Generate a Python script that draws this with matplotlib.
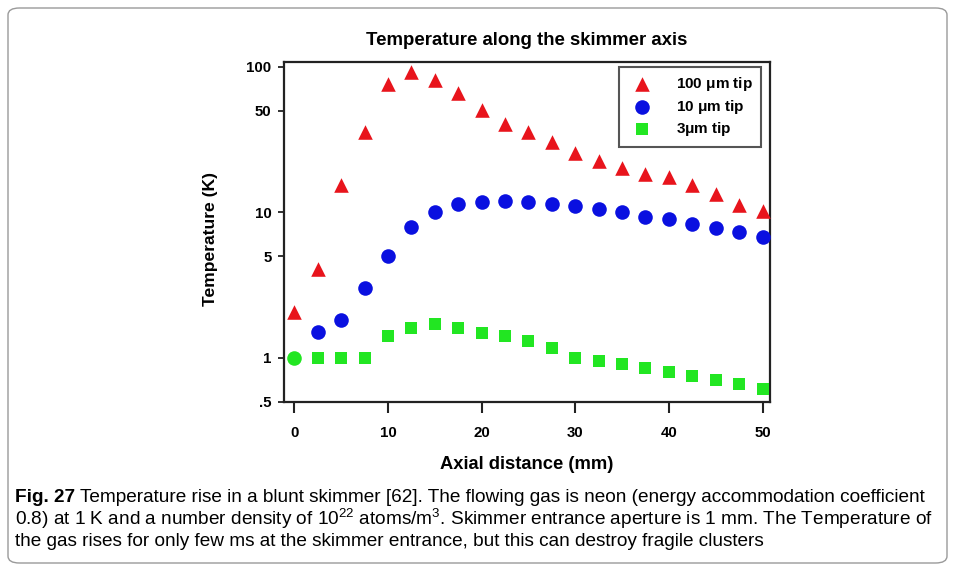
import matplotlib
matplotlib.use("Agg")
import matplotlib.pyplot as plt
from matplotlib.patches import FancyBboxPatch
from matplotlib.ticker import FixedLocator, NullLocator

x = [0, 2.5, 5, 7.5, 10, 12.5, 15, 17.5, 20, 22.5, 25, 27.5, 30, 32.5, 35, 37.5, 40, 42.5, 45, 47.5, 50]
t100 = [2.07, 4.1, 15.4, 35.4, 76.8, 92.4, 81, 66.6, 50.9, 40.8, 35.7, 30.5, 25.6, 22.5, 20.3, 18.3, 17.4, 15.4, 13.3, 11.2, 10.2]
t10 = [1.0, 1.51, 1.82, 3.03, 5.02, 7.95, 10.0, 11.5, 11.8, 11.9, 11.8, 11.5, 11.0, 10.5, 10.1, 9.3, 9.0, 8.3, 7.75, 7.3, 6.8]
t3 = [1.0, 1.0, 1.0, 1.0, 1.42, 1.61, 1.70, 1.61, 1.49, 1.42, 1.30, 1.16, 1.0, 0.95, 0.90, 0.85, 0.80, 0.75, 0.70, 0.66, 0.61]
labels = ["100 $\\mu$m tip", "10 $\\mu$m tip", "3$\\mu$m tip"]
yticks = [0.5, 1, 5, 10, 50, 100]
yticklabels = [".5", "1", "5", "10", "50", "100"]
xticks = [0, 10, 20, 30, 40, 50]

RED, BLUE, GREEN = '#e8141c', '#0a10e0', '#22e622'

plt.rcParams['font.family'] = ['Liberation Sans', 'DejaVu Sans']
plt.rcParams['mathtext.fontset'] = 'custom'
plt.rcParams['mathtext.rm'] = 'Liberation Sans'
plt.rcParams['mathtext.it'] = 'Liberation Sans:bold'
plt.rcParams['mathtext.bf'] = 'Liberation Sans:bold'

fig = plt.figure(figsize=(9.55, 5.71), dpi=100)
fig.patch.set_facecolor('white')

border = FancyBboxPatch((8/955, 8/571), 939/955, 555/571,
                        boxstyle="round,pad=0,rounding_size=0.012",
                        transform=fig.transFigure, fill=False,
                        edgecolor='#9a9a9a', linewidth=1.0)
fig.patches.append(border)

ax = fig.add_axes([284/955, 1 - 402/571, 486/955, 340/571])
ax.set_yscale('log')
ax.scatter(x, t100, marker='^', s=110, color=RED, label=labels[0], zorder=3, linewidths=0)
ax.scatter(x[1:], t10[1:], marker='o', s=110, color=BLUE, label=labels[1], zorder=3, linewidths=0)
ax.scatter(x[1:], t3[1:], marker='s', s=85, color=GREEN, label=labels[2], zorder=4, linewidths=0)
# first point: blue circle covered by green (appears as a green circle)
ax.scatter(x[:1], t3[:1], marker='o', s=110, color=GREEN, zorder=4, linewidths=0)

ax.set_xlim(-1.1, 50.8)
ax.set_ylim(0.497, 108)
ax.yaxis.set_major_locator(FixedLocator(yticks))
ax.yaxis.set_minor_locator(NullLocator())
ax.set_yticklabels(yticklabels)
ax.set_xticks(xticks)
ax.set_xticklabels([str(v) for v in xticks])
for lab in ax.get_xticklabels() + ax.get_yticklabels():
    lab.set_fontweight('bold')
    lab.set_fontsize(10.8)
ax.tick_params(axis='x', direction='out', length=8, width=1.5, color='#222222', pad=9)
ax.tick_params(axis='y', direction='out', length=4, width=1.3, color='#222222', pad=5)
for sp in ax.spines.values():
    sp.set_linewidth(1.6)
    sp.set_color('#222222')

ax.set_title("Temperature along the skimmer axis", fontsize=13.4, fontweight='bold', pad=12)
ax.set_xlabel("Axial distance (mm)", fontsize=13.2, fontweight='bold', labelpad=12)
ax.set_ylabel("Temperature (K)", fontsize=12.6, fontweight='bold')
ax.yaxis.set_label_coords(-0.135, 0.48)

leg = ax.legend(loc='upper right', bbox_to_anchor=(0.985, 0.99), frameon=True, fancybox=False,
                framealpha=1, edgecolor='#555555', prop={'weight': 'bold', 'size': 11},
                handletextpad=1.2, borderpad=0.55, labelspacing=0.3, borderaxespad=0.1,
                handlelength=2.0)
leg.get_frame().set_linewidth(1.5)

cap_font = ['Liberation Sans Narrow', 'Liberation Sans', 'DejaVu Sans']
fs = 13.7
t1 = fig.text(15/955, 1 - 497/571, "Fig. 27", fontsize=fs, fontweight='bold', family=cap_font, va='center', ha='left')
fig.canvas.draw()
bb = t1.get_window_extent()
fig.text(bb.x1/955 + 5/955, 1 - 497/571,
         "Temperature rise in a blunt skimmer [62]. The flowing gas is neon (energy accommodation coefficient",
         fontsize=fs, family=cap_font, va='center', ha='left')
fig.text(15/955, 1 - 519/571,
         "0.8) at 1 K and a number density of 10$^{22}$ atoms/m$^{3}$. Skimmer entrance aperture is 1 mm. The Temperature of",
         fontsize=fs, family=cap_font, va='center', ha='left')
fig.text(15/955, 1 - 541/571,
         "the gas rises for only few ms at the skimmer entrance, but this can destroy fragile clusters",
         fontsize=fs, family=cap_font, va='center', ha='left')

fig.savefig("out.png", dpi=100)
